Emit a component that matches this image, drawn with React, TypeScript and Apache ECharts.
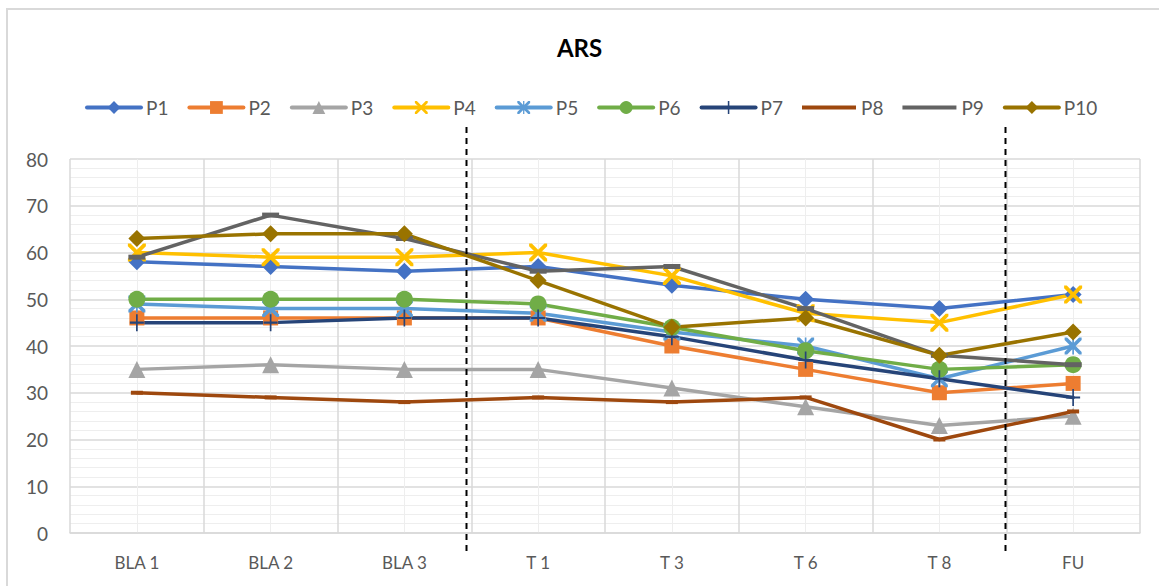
import React, { useEffect, useRef } from "react";
import * as echarts from "echarts";

const categories = ["BLA 1", "BLA 2", "BLA 3", "T 1", "T 3", "T 6", "T 8", "FU"];
const seriesNames = ["P1", "P2", "P3", "P4", "P5", "P6", "P7", "P8", "P9", "P10"];
const p1 = [58, 57, 56, 57, 53, 50, 48, 51];
const p2 = [46, 46, 46, 46, 40, 35, 30, 32];
const p3 = [35, 36, 35, 35, 31, 27, 23, 25];
const p4 = [60, 59, 59, 60, 55, 47, 45, 51];
const p5 = [49, 48, 48, 47, 43, 40, 33, 40];
const p6 = [50, 50, 50, 49, 44, 39, 35, 36];
const p7 = [45, 45, 46, 46, 42, 37, 33, 29];
const p8 = [30, 29, 28, 29, 28, 29, 20, 26];
const p9 = [59, 68, 63, 56, 57, 48, 38, 36];
const p10 = [63, 64, 64, 54, 44, 46, 38, 43];
const yTicks = { min: 0, max: 80, interval: 10 };

const X_PATH = "path://M0,0L3,0L10,7L17,0L20,0L20,3L13,10L20,17L20,20L17,20L10,13L3,20L0,20L0,17L7,10L0,3Z";
const STAR_PATH = "path://M0,0L3,0L10,7L17,0L20,0L20,3L13,10L20,17L20,20L17,20L10,13L3,20L0,20L0,17L7,10L0,3Z M9,0L11,0L11,20L9,20Z";
const PLUS_PATH = "path://M8.8,0L11.2,0L11.2,8.8L20,8.8L20,11.2L11.2,11.2L11.2,20L8.8,20L8.8,11.2L0,11.2L0,8.8L8.8,8.8Z";
const LINE_ICON = "path://M0,0L54,0L54,4L0,4Z";

const allData = [p1, p2, p3, p4, p5, p6, p7, p8, p9, p10];
const colors = ["#4472C4", "#ED7D31", "#A5A5A5", "#FFC000", "#5B9BD5", "#70AD47", "#264478", "#9E480E", "#636363", "#997300"];
const symbols: any[] = ["diamond", "rect", "triangle", X_PATH, STAR_PATH, "circle", PLUS_PATH, "rect", "rect", "diamond"];
const sizes: any[] = [17, 15, 17, 18, 17, 17, [14, 17], [12, 4], [17, 5], 17];

const FONT = "Lato";

export default function App() {
  const ref = useRef<HTMLDivElement>(null);
  useEffect(() => {
    if (!ref.current) return;
    const chart = echarts.init(ref.current, undefined, { renderer: "svg" });
    const series = seriesNames.map((name, i) => ({
      name,
      type: "line",
      data: allData[i],
      xAxisIndex: 0,
      yAxisIndex: 0,
      symbol: symbols[i],
      symbolSize: sizes[i],
      showSymbol: true,
      lineStyle: { color: colors[i], width: 3.5, cap: "round", join: "round" },
      itemStyle: { color: colors[i], borderWidth: 0 },
      emphasis: { disabled: true },
    }));
    const legendData = seriesNames.map((name, i) =>
      i === 7 || i === 8 ? { name, icon: LINE_ICON } : { name }
    );
    chart.setOption({
      animation: false,
      backgroundColor: "#ffffff",
      textStyle: { fontFamily: FONT },
      title: {
        text: "ARS",
        left: "center",
        top: 30,
        textStyle: { fontFamily: FONT, fontSize: 24, fontWeight: "bold", color: "#000000" },
      },
      legend: {
        data: legendData,
        left: 80,
        top: 93,
        itemWidth: 54,
        itemHeight: 16,
        itemGap: 19,
        lineStyle: { width: 4 },
        textStyle: { fontFamily: FONT, fontSize: 19, color: "#595959" },
      },
      grid: { left: 70, right: 19, top: 159, bottom: 53, containLabel: false },
      xAxis: [
        {
          type: "category",
          data: categories,
          boundaryGap: true,
          axisLine: { show: true, lineStyle: { color: "#d9d9d9", width: 1.5 } },
          axisTick: { show: false },
          axisLabel: { fontFamily: FONT, fontSize: 17, color: "#595959", margin: 21, interval: 0 },
          splitLine: { show: true, interval: 0, lineStyle: { color: "#d9d9d9", width: 1.5 } },
        },
        {
          type: "value",
          min: 0,
          max: 8,
          interval: 1,
          position: "bottom",
          axisLine: { show: false },
          axisTick: { show: false },
          axisLabel: { show: false },
          splitLine: { show: false },
          minorTick: { show: false, splitNumber: 2 },
          minorSplitLine: { show: true, lineStyle: { color: "#eeeeee", width: 1 } },
        },
      ],
      yAxis: {
        type: "value",
        min: yTicks.min,
        max: yTicks.max,
        interval: yTicks.interval,
        axisLine: { show: false },
        axisTick: { show: false },
        axisLabel: { fontFamily: FONT, fontSize: 19, color: "#595959", margin: 22 },
        splitLine: { show: true, lineStyle: { color: "#d9d9d9", width: 1.5 } },
        minorTick: { show: false, splitNumber: 5 },
        minorSplitLine: { show: true, lineStyle: { color: "#eeeeee", width: 1 } },
      },
      graphic: [
        {
          type: "rect",
          shape: { x: 7, y: 9, width: 1170, height: 600 },
          style: { fill: "none", stroke: "#d9d9d9", lineWidth: 2 },
          silent: true,
        },
        {
          type: "line",
          shape: { x1: 466.5, y1: 127, x2: 466.5, y2: 555 },
          style: { stroke: "#000000", lineWidth: 2, lineDash: [6, 5] },
          silent: true,
          z: 100,
        },
        {
          type: "line",
          shape: { x1: 1005.5, y1: 127, x2: 1005.5, y2: 555 },
          style: { stroke: "#000000", lineWidth: 2, lineDash: [6, 5] },
          silent: true,
          z: 100,
        },
      ],
      series,
    });
    return () => chart.dispose();
  }, []);
  return (
    <div
      ref={ref}
      style={{ position: "fixed", left: 0, top: 0, width: 1159, height: 586, background: "#fff" }}
    />
  );
}
